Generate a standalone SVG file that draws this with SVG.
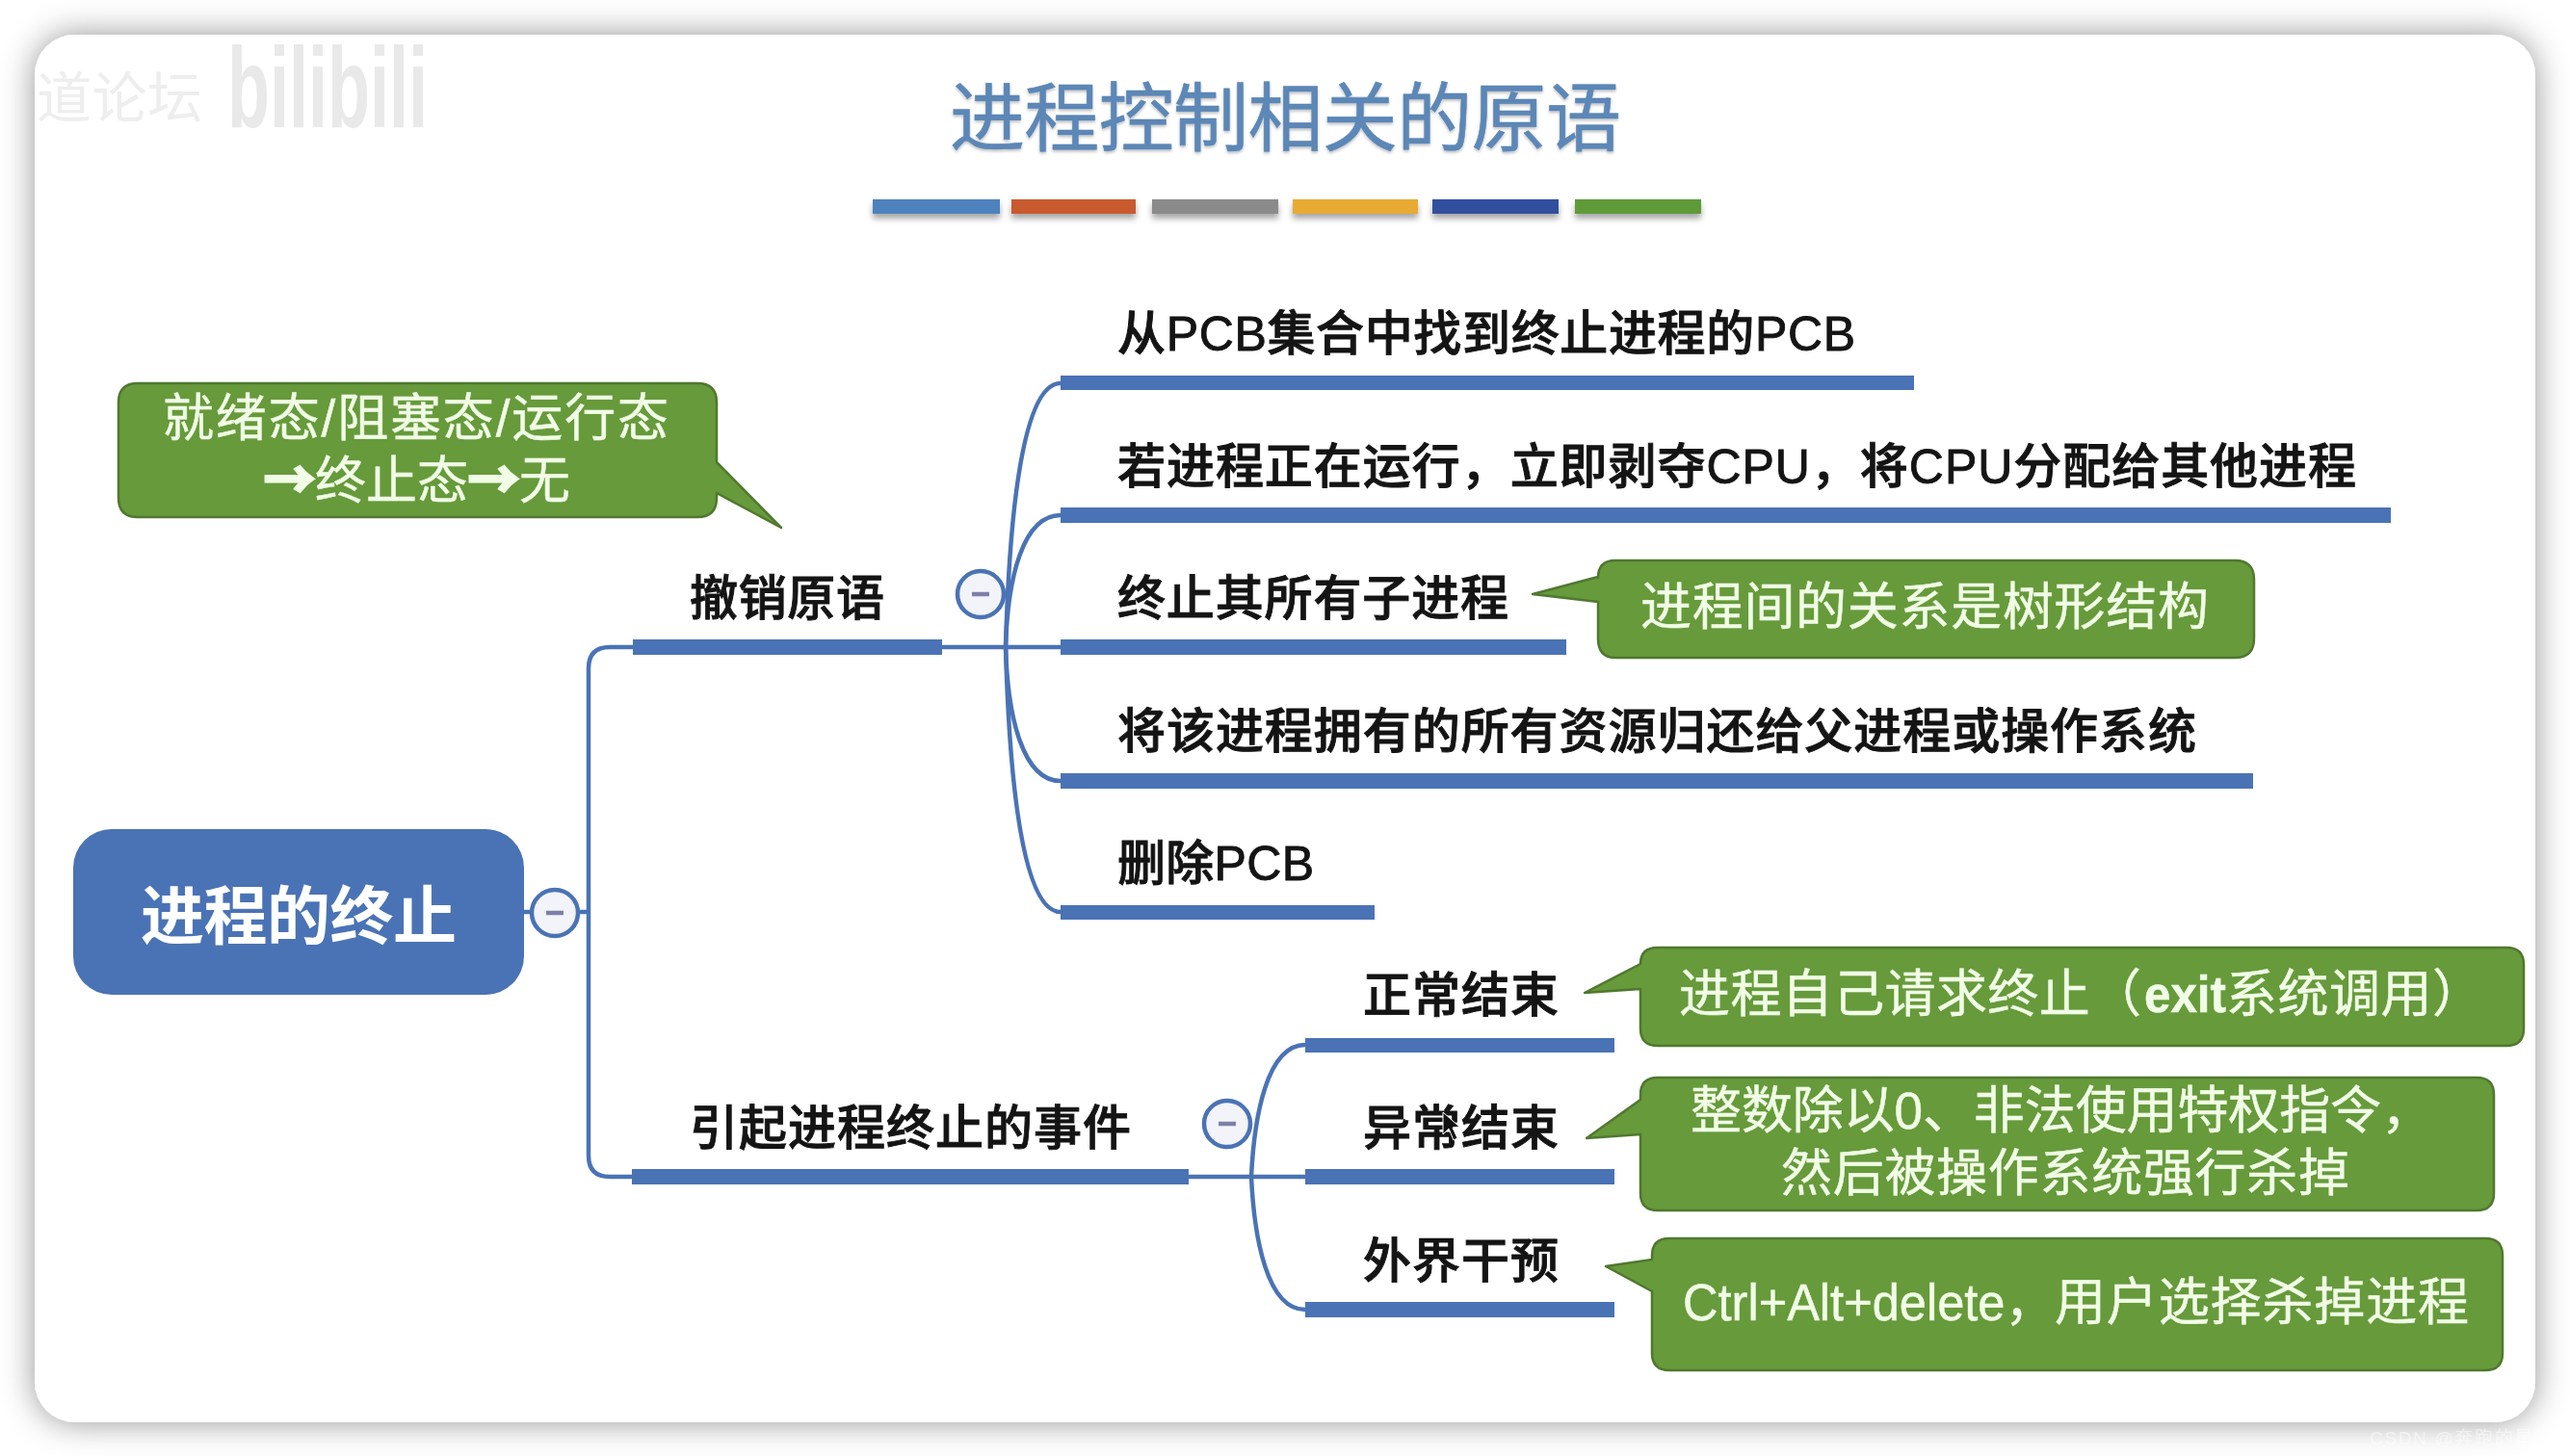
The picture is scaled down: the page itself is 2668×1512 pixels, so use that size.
<svg xmlns="http://www.w3.org/2000/svg" width="2668" height="1512" viewBox="0 0 2668 1512">
<defs>
<filter id="cardShadow" x="-5%" y="-8%" width="110%" height="116%"><feDropShadow dx="0" dy="0" stdDeviation="17" flood-color="#000" flood-opacity="0.42"/></filter>
<filter id="barShadow" x="-10%" y="-60%" width="120%" height="260%"><feDropShadow dx="0" dy="5" stdDeviation="3" flood-color="#000" flood-opacity="0.35"/></filter>
<filter id="titleShadow" x="-5%" y="-10%" width="110%" height="125%"><feDropShadow dx="0" dy="2" stdDeviation="1.5" flood-color="#000" flood-opacity="0.25"/></filter>
</defs>
<style>
text{font-family:"Liberation Sans","Noto Sans CJK SC",sans-serif}
.lbl{font-size:50px;fill:#141414;font-weight:500;stroke:#141414;stroke-width:.9px}
.note{font-size:53px;fill:#f1fde6;stroke:#f1fde6;stroke-width:.5px}
.arw{font-family:"Noto Sans CJK SC",sans-serif;font-weight:700;stroke-width:3px}
.bar{fill:#4a73b5}
.link{fill:none;stroke:#4a73b5;stroke-width:4.5px}
.co{fill:#f3f4fa;stroke:#4a73b5;stroke-width:4.5px}
.minus{stroke:#7c80a8;stroke-width:4.5px}
.bubble{fill:#669a3b;stroke:#50782f;stroke-width:2.5px;stroke-linejoin:round}
</style>
<rect width="2668" height="1512" fill="#ffffff"/>
<rect id="card" x="36" y="36" width="2596" height="1441" rx="42" fill="#ffffff" filter="url(#cardShadow)"/>

<g id="watermark">
<text x="38" y="122" font-size="57" fill="#eeeeee" textLength="172">道论坛</text>
<text x="236" y="132" font-size="118" font-weight="700" fill="#e9e9e9" textLength="208" lengthAdjust="spacingAndGlyphs">bilibili</text>
</g>

<g id="title">
<text x="986" y="151" font-size="78" fill="#5b87b6" stroke="#5b87b6" stroke-width=".6" textLength="697" filter="url(#titleShadow)">进程控制相关的原语</text>
<g filter="url(#barShadow)">
<rect x="906" y="207" width="132" height="15" fill="#4d82bd"/>
<rect x="1050" y="207" width="129" height="15" fill="#c85a2e"/>
<rect x="1196" y="207" width="131" height="15" fill="#8a8a8a"/>
<rect x="1342" y="207" width="130" height="15" fill="#e8aa33"/>
<rect x="1487" y="207" width="131" height="15" fill="#33509f"/>
<rect x="1635" y="207" width="131" height="15" fill="#5f9a38"/>
</g>
</g>

<g id="connectors">
<path class="link" d="M544,947 H611"/>
<path class="link" d="M657,672 H633 Q611,672 611,694 V1200 Q611,1222 633,1222 H657"/>
<path class="link" d="M978,672 H1101"/>
<path class="link" d="M1044,672 C1048,530 1062,398 1101,398"/>
<path class="link" d="M1044,672 C1046,600 1062,535 1101,535"/>
<path class="link" d="M1044,672 C1046,745 1062,811 1101,811"/>
<path class="link" d="M1044,672 C1048,815 1062,947 1101,947"/>
<path class="link" d="M1234,1222 H1355"/>
<path class="link" d="M1299,1222 C1302,1160 1315,1085 1355,1085"/>
<path class="link" d="M1299,1222 C1302,1285 1315,1360 1355,1360"/>
</g>

<g id="root">
<rect x="76" y="861" width="468" height="172" rx="40" fill="#4a73b5"/>
<text x="146" y="975" font-size="66" font-weight="700" fill="#ffffff" textLength="328">进程的终止</text>
</g>
<g id="root-toggle"><circle class="co" cx="576" cy="948" r="24"/><line class="minus" x1="567" y1="948" x2="585" y2="948"/></g>

<g id="revoke">
<rect class="bar" x="657" y="664" width="321" height="16"/>
<text class="lbl" x="716" y="639" textLength="202">撤销原语</text>
</g>
<g id="revoke-toggle"><circle class="co" cx="1018" cy="617" r="24"/><line class="minus" x1="1009" y1="617" x2="1027" y2="617"/></g>

<g id="step1"><rect class="bar" x="1101" y="390" width="886" height="15"/><text class="lbl" x="1160" y="364" textLength="766">从PCB集合中找到终止进程的PCB</text></g>
<g id="step2"><rect class="bar" x="1101" y="527" width="1381" height="16"/><text class="lbl" x="1160" y="502" textLength="1286">若进程正在运行，立即剥夺CPU，将CPU分配给其他进程</text></g>
<g id="step3"><rect class="bar" x="1101" y="664" width="525" height="16"/><text class="lbl" x="1160" y="639" textLength="406">终止其所有子进程</text></g>
<g id="step4"><rect class="bar" x="1101" y="803" width="1238" height="16"/><text class="lbl" x="1160" y="777" textLength="1120">将该进程拥有的所有资源归还给父进程或操作系统</text></g>
<g id="step5"><rect class="bar" x="1101" y="940" width="326" height="15"/><text class="lbl" x="1160" y="914" textLength="204">删除PCB</text></g>

<g id="event">
<rect class="bar" x="656" y="1214" width="578" height="16"/>
<text class="lbl" x="716" y="1189" textLength="458">引起进程终止的事件</text>
</g>
<g id="event-toggle"><circle class="co" cx="1274" cy="1167" r="24"/><line class="minus" x1="1265" y1="1167" x2="1283" y2="1167"/></g>

<g id="cause1"><rect class="bar" x="1355" y="1078" width="321" height="15"/><text class="lbl" x="1415" y="1051" textLength="203">正常结束</text></g>
<g id="cause2"><rect class="bar" x="1355" y="1214" width="321" height="16"/><text class="lbl" x="1415" y="1189" textLength="203">异常结束</text></g>
<g id="cause3"><rect class="bar" x="1355" y="1352" width="321" height="16"/><text class="lbl" x="1415" y="1327" textLength="203">外界干预</text></g>

<g id="note-states">
<path class="bubble" d="M143,398 H724 Q744,398 744,418 V480 L811,548 L744,512 V517 Q744,537 724,537 H143 Q123,537 123,517 V418 Q123,398 143,398 Z"/>
<text class="note" x="169" y="453" textLength="525">就绪态/阻塞态/运行态</text>
<text class="note" x="274" y="518" textLength="318"><tspan class="arw">→</tspan>终止态<tspan class="arw">→</tspan>无</text>
</g>
<g id="note-tree">
<path class="bubble" d="M1677,582 H2320 Q2340,582 2340,602 V663 Q2340,683 2320,683 H1677 Q1659,683 1659,663 V625 L1591,617 L1659,599 V600 Q1659,582 1677,582 Z"/>
<text class="note" x="1703" y="649" textLength="590">进程间的关系是树形结构</text>
</g>
<g id="note-exit">
<path class="bubble" d="M1721,984 H2602 Q2620,984 2620,1002 V1068 Q2620,1086 2602,1086 H1721 Q1703,1086 1703,1068 V1027 L1645,1031 L1703,1001 Q1703,984 1721,984 Z"/>
<text class="note" x="1743" y="1051" textLength="480">进程自己请求终止（</text>
<text class="note" x="2226" y="1051" textLength="85" lengthAdjust="spacingAndGlyphs" font-weight="700">exit</text>
<text class="note" x="2311" y="1051" textLength="267">系统调用）</text>
</g>
<g id="note-error">
<path class="bubble" d="M1721,1119 H2571 Q2589,1119 2589,1137 V1239 Q2589,1257 2571,1257 H1721 Q1703,1257 1703,1239 V1178 L1647,1182 L1703,1142 V1137 Q1703,1119 1721,1119 Z"/>
<text class="note" x="1755" y="1172" textLength="770">整数除以0、非法使用特权指令，</text>
<text class="note" x="1849" y="1237" textLength="590">然后被操作系统强行杀掉</text>
</g>
<g id="note-user">
<path class="bubble" d="M1733,1286 H2580 Q2598,1286 2598,1304 V1405 Q2598,1423 2580,1423 H1733 Q1715,1423 1715,1405 V1341 L1667,1315 L1715,1308 V1304 Q1715,1286 1733,1286 Z"/>
<text class="note" x="1747" y="1371" textLength="385" lengthAdjust="spacingAndGlyphs">Ctrl+Alt+delete，</text>
<text class="note" x="2133" y="1371" textLength="430">用户选择杀掉进程</text>
</g>

<path id="cursor" d="M1498,1155 L1498,1178 L1504,1172 L1509,1184 L1513,1182 L1508,1171 L1515,1170 Z" fill="#111" stroke="#fff" stroke-width="1"/>
<text id="csdn" x="2460" y="1500" font-size="19" fill="#ffffff" fill-opacity="0.55" textLength="190">CSDN @奔跑的星黛</text>
</svg>
